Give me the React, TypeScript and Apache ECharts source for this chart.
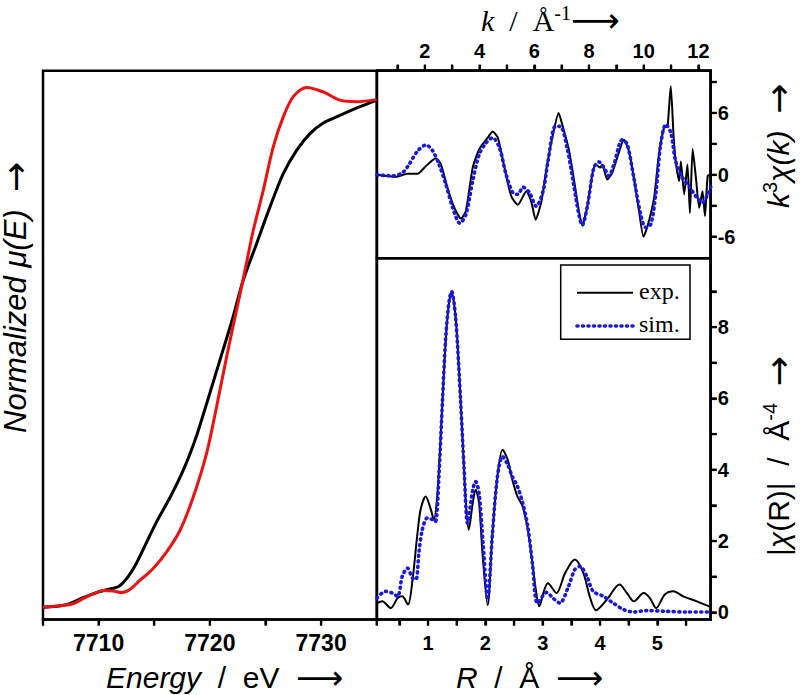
import React, { useEffect, useRef } from "react";
import * as echarts from "echarts";

// ---- XANES (left panel) ----
const sampleE = [7705, 7707.1, 7708.6, 7709.8, 7711.0, 7711.8, 7712.5, 7713.4, 7714.2, 7715.2, 7716.5, 7717.7, 7718.8, 7719.7, 7720.9, 7722.0, 7723.0, 7724.2, 7725.4, 7726.6, 7727.8, 7729.0, 7730.2, 7731.7, 7733.5, 7735];
const sampleMu = [0, 0.005, 0.019, 0.029, 0.036, 0.041, 0.056, 0.087, 0.123, 0.168, 0.220, 0.275, 0.338, 0.401, 0.487, 0.566, 0.645, 0.717, 0.789, 0.855, 0.901, 0.934, 0.955, 0.97, 0.987, 1.0];
const refE = [7705, 7706.5, 7707.7, 7708.6, 7709.5, 7710.4, 7711.3, 7712.1, 7712.8, 7713.7, 7714.8, 7716.1, 7717.3, 7718.5, 7719.7, 7720.6, 7721.5, 7722.4, 7723.1, 7723.9, 7724.8, 7725.7, 7726.6, 7727.5, 7728.7, 7730.2, 7731.7, 7733.2, 7735];
const refMu = [0, 0.003, 0.007, 0.017, 0.026, 0.033, 0.032, 0.029, 0.035, 0.053, 0.074, 0.109, 0.151, 0.217, 0.303, 0.395, 0.493, 0.586, 0.658, 0.743, 0.822, 0.908, 0.967, 1.007, 1.025, 1.016, 1.0, 0.997, 1.001];

// ---- k-space ----
const kExp = [0.25, 0.94, 1.37, 1.73, 2.04, 2.40, 2.59, 2.83, 3.08, 3.32, 3.50, 3.75, 3.99, 4.30, 4.48, 4.67, 4.91, 5.16, 5.40, 5.71, 5.89, 6.05, 6.26, 6.47, 6.71, 6.89, 7.02, 7.26, 7.44, 7.63, 7.75, 7.93, 8.12, 8.24, 8.42, 8.48, 8.67, 8.85, 9.03, 9.28, 9.46, 9.64, 9.83, 9.99, 10.14, 10.38, 10.56, 10.75, 10.87, 10.99, 11.09, 11.17, 11.30, 11.36, 11.48, 11.60, 11.69, 11.79, 11.91, 12.03, 12.15, 12.24, 12.34, 12.45];
const chiExp = [0, -0.2, 0.1, 0.1, 0.85, 1.6, 1.0, -1.3, -3.2, -4.25, -3.5, 0.7, 2.5, 3.6, 4.2, 3.6, 0.7, -2.1, -2.9, -1.6, -2.6, -4.35, -2.6, 1.0, 4.25, 6.0, 4.9, 2.5, -0.3, -3.5, -4.9, -3.2, 0.03, 1.0, 0.7, 1.0, -0.45, 0.2, 1.65, 3.4, 2.3, -0.3, -3.5, -6.0, -5.0, -2.25, 2.0, 4.6, 4.7, 8.6, 3.9, 1.3, -0.6, 1.3, -1.9, 1.0, -3.7, 2.5, -0.3, -3.2, -1.6, -4.0, -0.1, 0.0];
const kSim = [0.25, 0.82, 1.18, 1.42, 1.73, 2.04, 2.28, 2.52, 2.77, 3.02, 3.28, 3.50, 3.75, 3.99, 4.24, 4.48, 4.73, 4.97, 5.22, 5.40, 5.59, 5.83, 6.07, 6.32, 6.50, 6.77, 6.95, 7.20, 7.44, 7.63, 7.75, 7.93, 8.18, 8.36, 8.55, 8.73, 8.91, 9.22, 9.40, 9.64, 9.89, 10.07, 10.26, 10.44, 10.62, 10.81, 10.99, 11.17, 11.42, 11.66, 11.91, 12.15, 12.34, 12.45];
const chiSim = [0, -0.1, 0.2, 1.0, 2.3, 2.9, 2.35, 1.0, -0.95, -3.2, -4.7, -3.85, -0.6, 2.0, 3.1, 3.6, 2.6, 0.03, -1.75, -1.9, -1.2, -1.75, -3.05, -1.6, 1.3, 4.7, 4.7, 2.6, -0.95, -3.85, -4.9, -3.2, 0.7, 1.25, 0.7, -0.1, 1.0, 3.4, 2.95, -0.3, -3.85, -5.1, -4.8, -1.9, 2.95, 4.9, 4.1, 1.3, -0.3, -1.1, -2.1, -2.7, -1.9, -1.2];

// ---- R-space ----
const rExp = [0.11, 0.20, 0.35, 0.47, 0.55, 0.65, 0.73, 0.81, 0.87, 0.96, 1.05, 1.10, 1.16, 1.22, 1.28, 1.34, 1.41, 1.48, 1.54, 1.60, 1.66, 1.71, 1.78, 1.83, 1.89, 1.95, 2.04, 2.12, 2.21, 2.30, 2.39, 2.47, 2.56, 2.65, 2.74, 2.82, 2.88, 2.94, 3.03, 3.09, 3.24, 3.39, 3.56, 3.71, 3.82, 3.93, 4.12, 4.34, 4.47, 4.59, 4.76, 4.87, 4.98, 5.13, 5.28, 5.45, 5.69, 5.93];
const ftExp = [0.26, 0.31, 0.12, 0.40, 0.45, 0.22, 0.92, 2.13, 2.88, 3.25, 2.88, 2.6, 3.25, 4.93, 6.8, 8.3, 9.0, 8.3, 6.8, 4.93, 3.07, 2.32, 3.07, 3.44, 3.07, 1.66, 0.2, 2.13, 3.81, 4.56, 4.28, 3.72, 3.25, 2.97, 2.32, 1.38, 0.64, 0.17, 0.64, 0.82, 0.54, 1.1, 1.48, 1.1, 0.45, 0.06, 0.36, 0.78, 0.54, 0.31, 0.54, 0.40, 0.12, 0.50, 0.59, 0.45, 0.31, 0.15];
const rSim = [0.11, 0.26, 0.38, 0.47, 0.55, 0.64, 0.73, 0.79, 0.84, 0.90, 0.99, 1.08, 1.13, 1.19, 1.25, 1.31, 1.37, 1.41, 1.48, 1.57, 1.63, 1.69, 1.78, 1.83, 1.89, 1.96, 2.04, 2.12, 2.21, 2.30, 2.39, 2.47, 2.56, 2.65, 2.74, 2.82, 2.91, 3.07, 3.18, 3.30, 3.45, 3.56, 3.65, 3.77, 3.88, 4.06, 4.23, 4.41, 4.58, 4.81, 5.16, 5.51, 5.93];
const ftSim = [0.40, 0.59, 0.54, 0.45, 1.01, 1.24, 0.96, 0.92, 1.66, 2.32, 2.65, 2.6, 2.55, 3.81, 5.87, 7.74, 8.76, 9.0, 8.3, 5.87, 4.0, 2.5, 3.44, 3.67, 3.35, 1.94, 0.36, 2.13, 3.81, 4.37, 4.14, 3.81, 3.53, 3.07, 2.41, 1.38, 0.26, 0.56, 0.40, 0.26, 0.73, 1.2, 1.29, 1.01, 0.59, 0.45, 0.26, 0.08, 0.01, 0.05, 0.03, 0.01, 0.01];

// ---- tick values ----
const eTicks = [7705, 7710, 7715, 7720, 7725, 7730, 7735];
const eLabels = [7710, 7720, 7730];
const kTicks = [1, 2, 3, 4, 5, 6, 7, 8, 9, 10, 11, 12];
const kLabels = [2, 4, 6, 8, 10, 12];
const chiTicks = [-6, -3, 0, 3, 6, 9];
const chiLabels = [-6, 0, 6];
const rTicks = [0.5, 1, 1.5, 2, 2.5, 3, 3.5, 4, 4.5, 5, 5.5];
const rLabels = [1, 2, 3, 4, 5];
const ftTicks = [0, 1, 2, 3, 4, 5, 6, 7, 8, 9];
const ftLabels = [0, 2, 4, 6, 8];

// ---- axis ranges ----
const eRange = [7705, 7735];
const muRange = [-0.024, 1.058];
const kRange = [0.25, 12.45];
const chiRange = [-8.1, 10.1];
const rRange = [0.11, 5.93];
const ftRange = [-0.2, 9.93];

const zip = (xs: number[], ys: number[]) => xs.map((x, i) => [x, ys[i]]);

const SANS = "Liberation Sans, Arial, DejaVu Sans, sans-serif";
const SERIF = "Liberation Serif, Times New Roman, DejaVu Serif, serif";
const ARROW = "DejaVu Sans";
const RED = "#ee1111";
const BLUE = "#1818e6";
const TICK_LEN = 6;

const txt = (fontFamily: string, size: number, italic = false, extra: any = {}) => ({
  fontSize: size,
  fontFamily,
  fontStyle: italic ? "italic" : "normal",
  fill: "#000",
  ...extra,
});

const textStyleBase = (text: string, rich: any) => ({
  text,
  fontSize: 30,
  fontFamily: SANS,
  align: "left",
  verticalAlign: "middle",
  textAlign: "left",
  textVerticalAlign: "middle",
  fill: "#000",
  rich,
});

// tick marks drawn through the axes' own scales (api.coord)
const tickSeries = (
  xIdx: number,
  yIdx: number,
  values: number[],
  side: "bottom" | "top" | "right",
  xr: number[],
  yr: number[]
) => ({
  type: "custom",
  xAxisIndex: xIdx,
  yAxisIndex: yIdx,
  clip: false,
  silent: true,
  z: 10,
  data: values.map((v) => [v]),
  renderItem: (_params: any, api: any) => {
    const v = api.value(0);
    let p: number[];
    let q: number[];
    if (side === "bottom") {
      p = api.coord([v, yr[0]]);
      q = [p[0], p[1] + TICK_LEN];
    } else if (side === "top") {
      p = api.coord([v, yr[1]]);
      q = [p[0], p[1] - TICK_LEN];
    } else {
      p = api.coord([xr[1], v]);
      q = [p[0] + TICK_LEN, p[1]];
    }
    return {
      type: "line",
      shape: { x1: p[0], y1: p[1], x2: q[0], y2: q[1] },
      style: { stroke: "#000", lineWidth: 2.2 },
    };
  },
});

export default function App() {
  const ref = useRef<HTMLDivElement>(null);
  useEffect(() => {
    if (!ref.current) return;
    const chart = echarts.init(ref.current, undefined, { renderer: "svg" });
    const mkTick = (values: number[]) => ({
      show: true,
      length: TICK_LEN,
      customValues: values,
      lineStyle: { color: "#000", width: 2.2 },
    });
    const lab = (size: number, margin: number, values: number[]) => ({
      color: "#000",
      fontFamily: SANS,
      fontWeight: "bold" as const,
      fontSize: size,
      margin,
      customValues: values,
      formatter: (v: number) => String(v),
    });
    const mkLine = () => ({ show: true, onZero: false, lineStyle: { color: "#000", width: 2.5 } });
    const gridStyle = { show: true, borderColor: "#000", borderWidth: 2.5 };
    const sup = txt(SANS, 20, false, { verticalAlign: "top" });
    const option: any = {
      animation: false,
      grid: [
        { left: 43, top: 70.7, width: 333.7, height: 548.8, ...gridStyle },
        { left: 377, top: 70.7, width: 333.7, height: 187.6, ...gridStyle },
        { left: 377, top: 258.3, width: 333.7, height: 361.2, ...gridStyle },
      ],
      xAxis: [
        {
          type: "value",
          gridIndex: 0,
          position: "bottom",
          min: eRange[0],
          max: eRange[1],
          axisLine: mkLine(),
          splitLine: { show: false },
          axisTick: mkTick(eTicks),
          axisLabel: lab(23, 12, eLabels),
        },
        {
          type: "value",
          gridIndex: 1,
          position: "top",
          min: kRange[0],
          max: kRange[1],
          axisLine: mkLine(),
          splitLine: { show: false },
          axisTick: mkTick(kTicks),
          axisLabel: lab(20, 10, kLabels),
        },
        {
          type: "value",
          gridIndex: 2,
          position: "bottom",
          min: rRange[0],
          max: rRange[1],
          axisLine: mkLine(),
          splitLine: { show: false },
          axisTick: mkTick(rTicks),
          axisLabel: lab(20, 13, rLabels),
        },
      ],
      yAxis: [
        {
          type: "value",
          gridIndex: 0,
          position: "left",
          min: muRange[0],
          max: muRange[1],
          show: false,
          axisLine: { show: false, onZero: false },
          axisTick: { show: false },
          axisLabel: { show: false },
          splitLine: { show: false },
        },
        {
          type: "value",
          gridIndex: 1,
          position: "right",
          min: chiRange[0],
          max: chiRange[1],
          axisLine: mkLine(),
          splitLine: { show: false },
          axisTick: mkTick(chiTicks),
          axisLabel: lab(20, 7, chiLabels),
        },
        {
          type: "value",
          gridIndex: 2,
          position: "right",
          min: ftRange[0],
          max: ftRange[1],
          axisLine: mkLine(),
          splitLine: { show: false },
          axisTick: mkTick(ftTicks),
          axisLabel: lab(20, 7, ftLabels),
        },
      ],
      series: [
        {
          name: "sample",
          type: "line",
          xAxisIndex: 0,
          yAxisIndex: 0,
          data: zip(sampleE, sampleMu),
          symbol: "none",
          smooth: 0.3,
          lineStyle: { color: "#000", width: 3 },
        },
        {
          name: "reference",
          type: "line",
          xAxisIndex: 0,
          yAxisIndex: 0,
          data: zip(refE, refMu),
          symbol: "none",
          smooth: 0.3,
          lineStyle: { color: RED, width: 3 },
        },
        {
          name: "exp.",
          type: "line",
          xAxisIndex: 1,
          yAxisIndex: 1,
          data: zip(kExp, chiExp),
          symbol: "none",
          smooth: 0.2,
          itemStyle: { color: "#000" },
          lineStyle: { color: "#000", width: 2 },
        },
        {
          name: "sim.",
          type: "line",
          xAxisIndex: 1,
          yAxisIndex: 1,
          data: zip(kSim, chiSim),
          symbol: "none",
          smooth: 0.3,
          itemStyle: { color: BLUE },
          lineStyle: { color: BLUE, width: 3.6, type: [1, 4.5], cap: "round" },
        },
        {
          name: "exp.",
          type: "line",
          xAxisIndex: 2,
          yAxisIndex: 2,
          data: zip(rExp, ftExp),
          symbol: "none",
          smooth: 0.3,
          itemStyle: { color: "#000" },
          lineStyle: { color: "#000", width: 2 },
        },
        {
          name: "sim.",
          type: "line",
          xAxisIndex: 2,
          yAxisIndex: 2,
          data: zip(rSim, ftSim),
          symbol: "none",
          smooth: 0.3,
          itemStyle: { color: BLUE },
          lineStyle: { color: BLUE, width: 3.6, type: [1, 4.5], cap: "round" },
        },
        tickSeries(0, 0, eTicks, "bottom", eRange, muRange),
        tickSeries(1, 1, kTicks, "top", kRange, chiRange),
        tickSeries(1, 1, chiTicks, "right", kRange, chiRange),
        tickSeries(2, 2, rTicks, "bottom", rRange, ftRange),
        tickSeries(2, 2, ftTicks, "right", rRange, ftRange),
      ],
      graphic: [
        // legend of the |chi(R)| panel
        {
          type: "rect",
          shape: { x: 560.7, y: 265, width: 129.3, height: 74.3 },
          style: { fill: "#fff", stroke: "#000", lineWidth: 1.5 },
          z: 20,
        },
        {
          type: "line",
          shape: { x1: 577, y1: 292.7, x2: 633, y2: 292.7 },
          style: { stroke: "#000", lineWidth: 2 },
          z: 21,
        },
        {
          type: "line",
          shape: { x1: 577, y1: 326, x2: 633, y2: 326 },
          style: { stroke: BLUE, lineWidth: 3.6, lineDash: [1, 4.5], lineCap: "round" },
          z: 21,
        },
        {
          type: "text",
          x: 639,
          y: 290.5,
          z: 21,
          style: {
            text: "exp.",
            fontSize: 24,
            fontFamily: SERIF,
            fill: "#000",
            align: "left",
            verticalAlign: "middle",
            textAlign: "left",
            textVerticalAlign: "middle",
          },
        },
        {
          type: "text",
          x: 639,
          y: 323.8,
          z: 21,
          style: {
            text: "sim.",
            fontSize: 24,
            fontFamily: SERIF,
            fill: "#000",
            align: "left",
            verticalAlign: "middle",
            textAlign: "left",
            textVerticalAlign: "middle",
          },
        },
        // axis titles
        {
          type: "text",
          x: 106,
          y: 677.5,
          style: textStyleBase("{i|Energy}{n|  /  eV  }{a|⟶}", {
            i: txt(SANS, 30, true),
            n: txt(SANS, 30),
            a: txt(ARROW, 33),
          }),
        },
        {
          type: "text",
          x: 456,
          y: 677.5,
          style: textStyleBase("{i|R}{n|  /  Å  }{a|⟶}", {
            i: txt(SANS, 30, true),
            n: txt(SANS, 30),
            a: txt(ARROW, 33),
          }),
        },
        {
          type: "text",
          x: 481,
          y: 20,
          style: textStyleBase("{i|k}{n|  /  Å}{s|-1}{a|⟶}", {
            i: txt(SERIF, 30, true),
            n: txt(SERIF, 30),
            s: txt(SERIF, 20, false, { verticalAlign: "top" }),
            a: txt(ARROW, 34),
          }),
        },
        {
          type: "text",
          x: 15,
          y: 433,
          rotation: Math.PI / 2,
          style: textStyleBase("{i|Normalized μ(E)}{n|  }{a|→}", {
            i: txt(SANS, 31, true),
            n: txt(SANS, 31),
            a: txt(ARROW, 36),
          }),
        },
        {
          type: "text",
          x: 778,
          y: 208,
          rotation: Math.PI / 2,
          style: textStyleBase("{i|k}{s|3}{i|χ(k)}{n|  }{a|→}", {
            i: txt(SANS, 30, true),
            n: txt(SANS, 30),
            s: sup,
            a: txt(ARROW, 36),
          }),
        },
        {
          type: "text",
          x: 778,
          y: 556,
          rotation: Math.PI / 2,
          style: textStyleBase("{n||}{i|χ}{n|(R)|  /  Å}{s|-4}{n|  }{a|→}", {
            i: txt(SANS, 30, true),
            n: txt(SANS, 30),
            s: sup,
            a: txt(ARROW, 36),
          }),
        },
      ],
    };
    chart.setOption(option);
    return () => chart.dispose();
  }, []);
  return (
    <div
      ref={ref}
      style={{ position: "fixed", left: 0, top: 0, width: 800, height: 695, background: "#fff" }}
    />
  );
}
